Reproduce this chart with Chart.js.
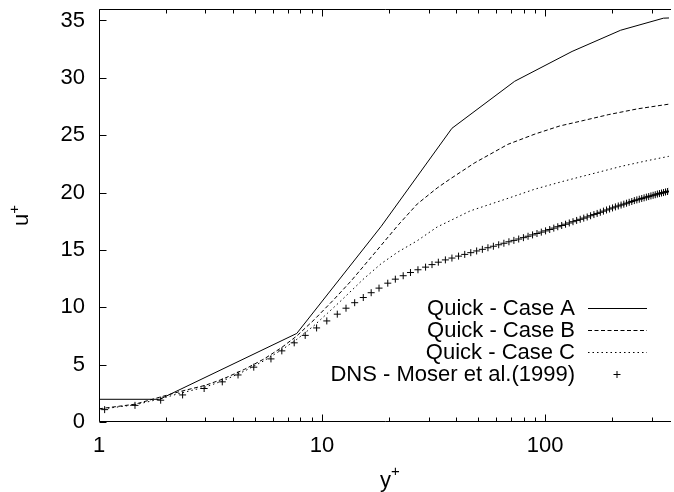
<!DOCTYPE html>
<html>
<head>
<meta charset="utf-8">
<script src="https://cdn.jsdelivr.net/npm/chart.js@4.4.1/dist/chart.umd.min.js"></script>
<style>
html,body{margin:0;padding:0;background:#fff;}
#wrap{width:674px;height:492px;}
</style>
</head>
<body>
<div id="wrap"><canvas id="c" width="674" height="492"></canvas></div>
<script>
// ---- data ----
const yPlusA = [1, 1.87, 7.7, 18.4, 38.2, 73, 132, 218, 339, 395];
const uA     = [1.98, 1.98, 7.72, 17.05, 25.6, 29.7, 32.3, 34.15, 35.2, 35.25];

const yPlusB = [1, 1.45, 1.87, 2.3, 3.0, 3.6, 4.5, 5.5, 6.6, 7.7, 9.2, 11.2, 13.5, 16, 18.4, 22, 26.7, 32.8, 37.6, 48.4, 68, 90, 116, 150, 193, 260, 357, 395];
const uB     = [1.15, 1.55, 2.16, 2.65, 3.2, 3.75, 4.6, 5.5, 6.5, 7.5, 8.9, 10.6, 12.3, 14.0, 15.4, 17.2, 19.0, 20.4, 21.2, 22.6, 24.2, 25.1, 25.8, 26.3, 26.8, 27.3, 27.7, 27.8];

const yPlusC = [1, 1.45, 1.87, 2.3, 3.0, 3.6, 4.5, 5.5, 6.6, 7.7, 9.2, 10.6, 12.2, 15.4, 18.4, 21.8, 26.7, 32.8, 38, 46.1, 68.2, 90, 119.8, 160, 221, 290, 357, 395];
const uC     = [1.1, 1.5, 2.0, 2.5, 3.05, 3.6, 4.45, 5.35, 6.3, 7.2, 8.4, 9.5, 10.6, 12.5, 13.8, 14.8, 15.8, 17.0, 17.6, 18.4, 19.5, 20.3, 20.97, 21.6, 22.3, 22.8, 23.15, 23.25];

const yPlusDNS = [1.06, 1.45, 1.89, 2.37, 2.96, 3.57, 4.2, 4.94, 5.9, 6.6, 7.5, 8.4, 9.45, 10.5, 11.7, 12.8, 14.0, 15.3, 16.6, 18.0, 19.7, 21.3, 23.1, 24.9, 26.9, 29.1, 31.1, 33.2, 35.7, 38.2, 40.9,
  43.6, 46.4, 49.3, 52.3, 55.4, 58.6, 61.9, 65.3, 68.8, 72.4, 76.1, 79.9, 83.8, 87.8, 91.9, 96.1, 100.4, 104.8, 109.3, 113.9, 118.6, 123.4, 128.3, 133.3, 138.4, 143.6, 148.9, 154.3, 159.8, 165.4,
  171.0, 176.7, 182.5, 188.4, 194.4, 200.4, 206.5, 212.7, 218.9, 225.2, 231.6, 238.0, 244.5, 251.0, 257.6, 264.2, 270.9, 277.6, 284.3, 291.1, 297.9, 304.7, 311.6, 318.5, 325.4, 332.3, 339.3, 346.3, 353.3, 360.3];
const uDNS = [1.08, 1.45, 1.9, 2.36, 2.92, 3.5, 4.1, 4.78, 5.5, 6.2, 6.9, 7.55, 8.2, 8.81, 9.4, 9.92, 10.4, 10.85, 11.27, 11.67, 12.1, 12.45, 12.75, 13.03, 13.27, 13.5, 13.72, 13.93, 14.13, 14.29, 14.46,
  14.61, 14.76, 14.91, 15.05, 15.19, 15.32, 15.45, 15.58, 15.71, 15.83, 15.95, 16.07, 16.19, 16.31, 16.43, 16.55, 16.66, 16.78, 16.9, 17.02, 17.13, 17.24, 17.35, 17.46, 17.57, 17.67, 17.77, 17.87, 17.98, 18.08,
  18.18, 18.28, 18.38, 18.48, 18.57, 18.66, 18.75, 18.83, 18.91, 18.99, 19.07, 19.15, 19.22, 19.3, 19.36, 19.42, 19.48, 19.54, 19.6, 19.65, 19.71, 19.76, 19.81, 19.87, 19.91, 19.96, 20.0, 20.05, 20.09, 20.13];

const seriesLabels = ['Quick - Case A', 'Quick - Case B', 'Quick - Case C', 'DNS - Moser et al.(1999)'];
const xMajorTicks = [1, 10, 100];
const xMinorTicks = [2, 3, 4, 5, 6, 7, 8, 9, 20, 30, 40, 50, 60, 70, 80, 90, 200, 300];
const yMajorTicks = [0, 5, 10, 15, 20, 25, 30, 35];
const xTitle = 'y';
const yTitle = 'u';
const supText = '+';

// ---- chart ----
const FONT = '"Liberation Sans", Arial, Helvetica, sans-serif';
const pts = (xs, ys) => xs.map((x, i) => ({x: x, y: ys[i]}));

const framePlugin = {
  id: 'frame',
  afterDraw(chart) {
    const ctx = chart.ctx, a = chart.chartArea;
    const xs = chart.scales.x, ys = chart.scales.y;
    ctx.save();
    ctx.strokeStyle = '#000';
    ctx.lineWidth = 1;
    const L = Math.round(a.left) + 0.5, T = Math.round(a.top) + 0.5, B = Math.round(a.bottom) - 0.5, R = a.right + 2;
    ctx.beginPath();
    ctx.moveTo(R, T); ctx.lineTo(L, T); ctx.lineTo(L, B); ctx.lineTo(R, B);
    ctx.stroke();
    ctx.beginPath();
    yMajorTicks.forEach(v => {
      const py = Math.round(ys.getPixelForValue(v)) + 0.5;
      ctx.moveTo(L, py); ctx.lineTo(L + 7, py);
    });
    xMajorTicks.forEach(v => {
      const px = Math.round(xs.getPixelForValue(v)) + 0.5;
      ctx.moveTo(px, B); ctx.lineTo(px, B - 7);
      ctx.moveTo(px, T); ctx.lineTo(px, T + 7);
    });
    xMinorTicks.forEach(v => {
      const px = Math.round(xs.getPixelForValue(v)) + 0.5;
      ctx.moveTo(px, B); ctx.lineTo(px, B - 4);
      ctx.moveTo(px, T); ctx.lineTo(px, T + 4);
    });
    ctx.stroke();

    // axis titles with superscript
    ctx.fillStyle = '#000';
    ctx.textAlign = 'left';
    ctx.textBaseline = 'alphabetic';
    ctx.font = '22px ' + FONT;
    const wy = ctx.measureText(xTitle).width;
    ctx.fillText(xTitle, 380, 487);
    ctx.font = '15px ' + FONT;
    ctx.fillText(supText, 380 + wy, 476);
    ctx.save();
    ctx.translate(28, 226);
    ctx.rotate(-Math.PI / 2);
    ctx.font = '22px ' + FONT;
    const wu = ctx.measureText(yTitle).width;
    ctx.fillText(yTitle, 0, 0);
    ctx.font = '15px ' + FONT;
    ctx.fillText(supText, wu, -9);
    ctx.restore();

    // legend
    const rows = [308, 330, 352, 374];
    ctx.font = '22px ' + FONT;
    ctx.textAlign = 'right';
    ctx.textBaseline = 'middle';
    chart.data.datasets.forEach((ds, i) => {
      const y = rows[i];
      ctx.fillText(ds.label, 575, y + 1);
      ctx.beginPath();
      ctx.lineWidth = 1;
      ctx.strokeStyle = '#000';
      if (i < 3) {
        ctx.setLineDash(ds.borderDash || []);
        ctx.moveTo(588, y + 0.5); ctx.lineTo(647, y + 0.5);
        ctx.stroke();
        ctx.setLineDash([]);
      } else {
        ctx.moveTo(613.5, y + 0.5); ctx.lineTo(620.5, y + 0.5);
        ctx.moveTo(617, y - 3); ctx.lineTo(617, y + 4);
        ctx.stroke();
      }
    });
    ctx.restore();
  }
};

const noPad = s => { s.paddingTop = 0; s.paddingBottom = 0; s.paddingLeft = 0; s.paddingRight = 0; };

new Chart(document.getElementById('c'), {
  type: 'line',
  data: {
    datasets: [
      { label: seriesLabels[0], data: pts(yPlusA, uA), borderColor: '#000', borderWidth: 1, pointRadius: 0, tension: 0, fill: false },
      { label: seriesLabels[1], data: pts(yPlusB, uB), borderColor: '#000', borderWidth: 1, borderDash: [4, 2.5], pointRadius: 0, tension: 0, fill: false },
      { label: seriesLabels[2], data: pts(yPlusC, uC), borderColor: '#000', borderWidth: 1, borderDash: [1.5, 3], pointRadius: 0, tension: 0, fill: false },
      { label: seriesLabels[3], data: pts(yPlusDNS, uDNS), showLine: false, pointStyle: 'cross', pointRadius: 3.5, pointBorderWidth: 1, borderColor: '#000', backgroundColor: '#000', pointBorderColor: '#000' }
    ]
  },
  options: {
    responsive: false,
    animation: false,
    devicePixelRatio: 1,
    layout: { padding: { top: 9, right: 0, left: 0, bottom: 0 } },
    plugins: { legend: { display: false }, tooltip: { enabled: false } },
    scales: {
      x: {
        type: 'logarithmic',
        min: 1, max: 359,
        grid: { display: false, drawTicks: false },
        border: { display: false },
        afterBuildTicks: s => { s.ticks = xMajorTicks.map(v => ({ value: v })); },
        afterFit: s => { s.height = 70; noPad(s); },
        ticks: {
          autoSkip: false, maxRotation: 0, padding: 11, color: '#000',
          font: { family: FONT, size: 22 },
          callback: v => String(v)
        }
      },
      y: {
        type: 'linear',
        min: 0, max: 36,
        grid: { display: false, drawTicks: false },
        border: { display: false },
        afterBuildTicks: s => { s.ticks = yMajorTicks.map(v => ({ value: v })); },
        afterFit: s => { s.width = 99; noPad(s); },
        ticks: {
          padding: 14, color: '#000',
          font: { family: FONT, size: 22 },
          callback: v => String(v)
        }
      }
    }
  },
  plugins: [framePlugin]
});
</script>
</body>
</html>
